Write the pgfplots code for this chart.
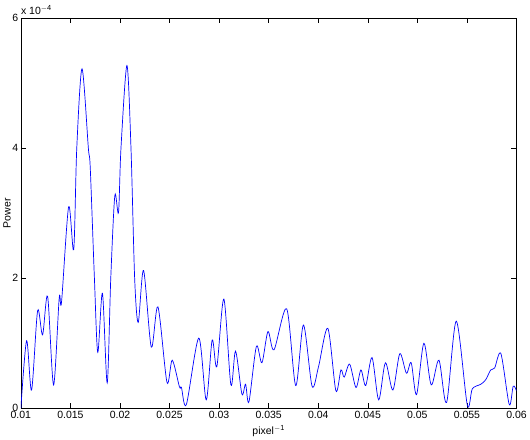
\documentclass[border=0pt]{standalone}
\usepackage{fontspec}
\setmainfont{Liberation Sans}
\usepackage{pgfplots}
\pgfplotsset{compat=1.18}
\begin{document}
\begin{tikzpicture}[x=1bp,y=1bp]
\begin{axis}[
  name=ax,
  scale only axis,
  width=494bp, height=389bp,
  xmin=0.01, xmax=0.06, ymin=0, ymax=6,
  scaled x ticks=false, scaled y ticks=false,
  xtick={0.01,0.015,0.02,0.025,0.03,0.035,0.04,0.045,0.05,0.055,0.06},
  xticklabels={0.01,0.015,0.02,0.025,0.03,0.035,0.04,0.045,0.05,0.055,0.06},
  ytick={0,2,4,6},
  yticklabels={0,2,4,6},
  tick align=inside,
  major tick length=5bp,
  tick style={black, line width=0.5pt},
  axis line style={line width=0.5pt},
  ticklabel style={font=\fontsize{10.5}{12}\selectfont},
  xticklabel style={yshift=1bp},
  yticklabel style={xshift=1bp},
  xlabel={pixel\textsuperscript{$-$1}},
  ylabel={Power},
  label style={font=\fontsize{10.5}{12}\selectfont},
  ylabel style={yshift=-5bp},
]
\addplot[blue, line width=0.7pt, smooth, tension=0.5] coordinates {
(0.01000,0.00) (0.01058,1.04) (0.01108,0.28) (0.01169,1.50) (0.01219,1.13)
(0.01270,1.72) (0.01330,0.36) (0.01387,1.70) (0.01410,1.63) (0.01482,3.10)
(0.01533,2.44) (0.01564,4.00) (0.01617,5.22) (0.01681,4.00) (0.01700,3.70)
(0.01742,2.00) (0.01776,0.86) (0.01823,1.77) (0.01871,0.39) (0.01907,2.00)
(0.01948,3.27) (0.01985,3.01) (0.02010,4.00) (0.02070,5.27) (0.02111,4.00)
(0.02148,2.00) (0.02184,1.32) (0.02238,2.12) (0.02316,0.94) (0.02383,1.56)
(0.02474,0.40) (0.02527,0.74) (0.02600,0.33) (0.02620,0.32) (0.02670,0.06)
(0.02795,1.08) (0.02870,0.13) (0.02930,1.05) (0.02977,0.64) (0.03048,1.68)
(0.03119,0.36) (0.03166,0.88) (0.03230,0.22) (0.03267,0.37) (0.03301,0.10)
(0.03376,0.95) (0.03432,0.70) (0.03493,1.18) (0.03554,0.90) (0.03682,1.53)
(0.03773,0.35) (0.03851,1.28) (0.03938,0.34) (0.04003,0.64) (0.04097,1.23)
(0.04178,0.27) (0.04229,0.59) (0.04262,0.48) (0.04317,0.68) (0.04381,0.32)
(0.04431,0.59) (0.04479,0.35) (0.04543,0.78) (0.04610,0.13) (0.04678,0.70)
(0.04753,0.28) (0.04823,0.84) (0.04890,0.54) (0.04938,0.70) (0.04992,0.21)
(0.05066,1.00) (0.05140,0.36) (0.05218,0.74) (0.05295,0.09) (0.05393,1.34)
(0.05504,0.05) (0.05555,0.30) (0.05640,0.37) (0.05690,0.44) (0.05740,0.59)
(0.05780,0.62) (0.05843,0.84) (0.05927,0.06) (0.05967,0.34) (0.06000,0.27)
};
\end{axis}
\node[anchor=south west, inner sep=0pt, font=\fontsize{10.5}{12}\selectfont]
  at (ax.north west) [yshift=3bp] {x 10\textsuperscript{$-$4}};
\path (ax.north west) ++(0,18bp);
\path (ax.north east) ++(11bp,0);
\end{tikzpicture}
\end{document}
